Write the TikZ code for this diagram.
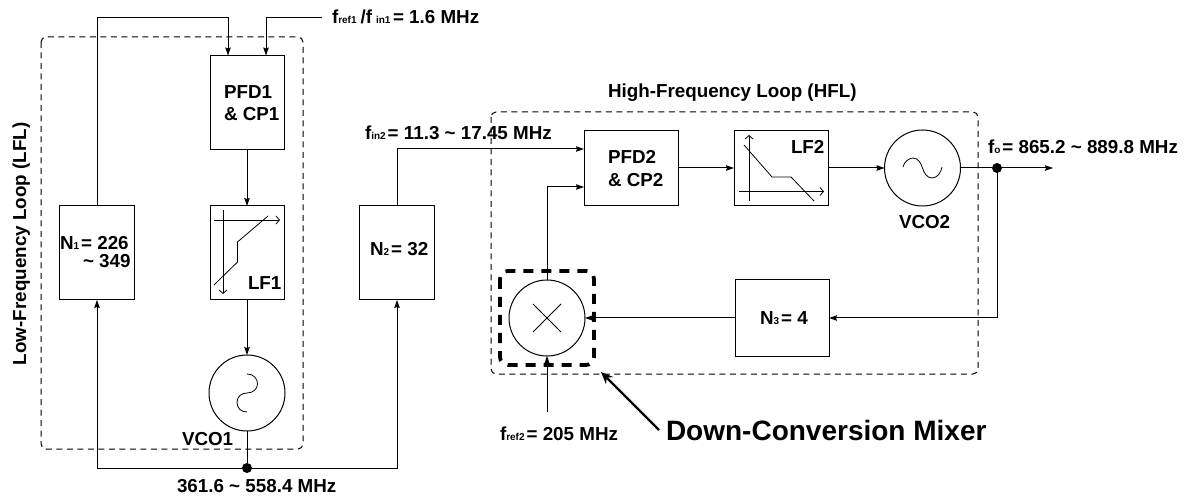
\documentclass[tikz,border=0pt]{standalone}
\usepackage{fontspec}
\setmainfont{Liberation Sans}
\usetikzlibrary{arrows.meta,calc}
\newcommand{\tinysub}[1]{{\fontsize{10}{12}\selectfont #1}}
\tikzset{
  x=1pt,y=-1pt,
  every node/.style={font=\fontsize{18.8}{22}\selectfont\bfseries},
  conn/.style={line width=1pt,draw=black},
  arrow/.style={conn,-{Stealth[length=8pt,width=5.5pt,inset=1pt]}},
  plotax/.style={line width=.8pt,-{Straight Barb[length=3.5pt,width=8pt]}},
  plotline/.style={line width=.8pt,line join=miter},
  blockbox/.style={draw,line width=1pt,inner sep=0pt,outer sep=0pt,minimum width=#1},
  roundblock/.style={draw,circle,line width=1pt,inner sep=0pt,outer sep=0pt,minimum size=76pt},
  dot/.style={circle,fill=black,inner sep=0pt,minimum size=10pt},
  loopbox/.style={line width=1pt,dash pattern=on 6pt off 4.5pt,rounded corners=5pt},
  mixbox/.style={line width=3.8pt,dash pattern=on 10pt off 8pt,rounded corners=8pt},
  lab/.style={anchor=base west,inner sep=0pt,outer sep=0pt},
}
\begin{document}
\begin{tikzpicture}
\useasboundingbox (0,0) rectangle (1187,497);
% loop frames
\draw[loopbox] (41,37) rectangle (303,449);
\draw[loopbox] (491,112) rectangle (978,374);
% blocks
\node[blockbox=74pt,minimum height=94pt] (pfd1) at (247,102.5) {};
\node[blockbox=74pt,minimum height=94pt] (lf1) at (247,253) {};
\node[blockbox=75pt,minimum height=94pt] (n1) at (97,253) {};
\node[blockbox=75pt,minimum height=94pt] (n2) at (397,253) {};
\node[roundblock] (vco1) at (247,393) {};
\node[dot] (j1) at (247,468) {};
\node[blockbox=94pt,minimum height=75pt] (pfd2) at (631,168) {};
\node[blockbox=94pt,minimum height=75pt] (lf2) at (781,168) {};
\node[roundblock] (vco2) at (922.5,168) {};
\node[dot] (j2) at (997,168) {};
\node[blockbox=94pt,minimum height=76pt] (n3) at (782,318) {};
\node[roundblock] (mix) at (547,318) {};
% free ends and bends
\coordinate (in1) at (322,18);
\coordinate (pfd1a) at (228,55.5);
\coordinate (pfd1b) at (266,55.5);
\coordinate (pfd2a) at (584,149);
\coordinate (pfd2b) at (584,187);
\coordinate (out) at (1053,168);
\coordinate (fr2) at (547,412);
\coordinate (dcm) at (659,430);
\coordinate (dcmtip) at (601,372);
% connectors
\draw[arrow] (n1.north) |- ($(pfd1a)+(0,-37.5)$) -- (pfd1a);
\draw[arrow] (in1) -| (pfd1b);
\draw[arrow] (pfd1) -- (lf1);
\draw[arrow] (lf1) -- (vco1);
\draw[conn] (vco1) -- (j1);
\draw[arrow] (j1) -| (n1.south);
\draw[arrow] (j1) -| (n2.south);
\draw[arrow] (n2.north) |- (pfd2a);
\draw[arrow] (mix.north) |- (pfd2b);
\draw[arrow] (pfd2) -- (lf2);
\draw[arrow] (lf2) -- (vco2);
\draw[conn] (vco2) -- (j2);
\draw[arrow] (j2) -- (out);
\draw[arrow] (j2) |- (n3.east);
\draw[arrow] (n3) -- (mix);
\draw[arrow] (fr2) -- (mix.south);
% symbols
\draw[plotax] (214,220) -- (280,220);
\draw[plotax] (223,210) -- (223,294);
\draw[plotline] (268,216) -- (237.5,242) -- (237.5,262) -- (214,285);
\draw[plotax] (749,201) -- (749,135);
\draw[plotax] (739,191.5) -- (824,191.5);
\draw[plotline] (744,145) -- (772,177) -- (791,177) -- (814,201);
\draw[line width=.8pt] (247,374) .. controls (254,374) and (257.5,379) .. (257.5,384) .. controls (257.5,389) and (253,393) .. (247,393) .. controls (241,393) and (237,397) .. (237,402.5) .. controls (237,408) and (241,412) .. (247,412);
\draw[line width=.8pt] (903,167) .. controls (904,162) and (909,158) .. (913,158) .. controls (918,158) and (921,163) .. (922.5,168) .. controls (924,173) and (927,178) .. (932,178) .. controls (937,178) and (941,173) .. (942,167);
\draw[line width=.8pt] (533,304) -- (561,332) (533,332) -- (561,304);
% mixer highlight
\draw[mixbox] (500,271) rectangle (594,365);
\draw[line width=2.4pt,-{Stealth[length=12pt,width=10pt]}] (dcm) -- (dcmtip);
% labels
\node[lab] (tfref1) at (332,24) {f\tinysub{ref1}\hspace{4pt}/f\hspace{4pt}\tinysub{in1}\hspace{2.5pt}= 1.6 MHz};
\node[lab] (tpfd1a) at (224,99) {PFD1};
\node[lab] (tpfd1b) at (224,121) {\& CP1};
\node[lab] (tn1a) at (60,249.5) {N\tinysub{1}\hspace{2pt}= 226};
\node[lab] (tn1b) at (83,268) {\textasciitilde{} 349};
\node[lab] (tlf1) at (248,290) {LF1};
\node[lab] (tvco1) at (182,445) {VCO1};
\node[lab] (tn2) at (370,256) {N\tinysub{2}\hspace{2pt}= 32};
\node[lab,rotate=90] (tlfl) at (26,365) {Low-Frequency Loop (LFL)};
\node[lab] (tout1) at (177,492) {361.6 \textasciitilde{} 558.4 MHz};
\node[lab] (tfin2) at (365,140) {f\tinysub{in2}\hspace{2pt}= 11.3 \textasciitilde{} 17.45 MHz};
\node[lab] (thfl) at (608,98) {High-Frequency Loop (HFL)};
\node[lab] (tpfd2a) at (608,164) {PFD2};
\node[lab] (tpfd2b) at (608,187) {\& CP2};
\node[lab] (tlf2) at (791,154) {LF2};
\node[lab] (tvco2) at (899,229) {VCO2};
\node[lab] (tfo) at (988,154) {f\tinysub{o}\hspace{2pt}= 865.2 \textasciitilde{} 889.8 MHz};
\node[lab] (tn3) at (760,325) {N\tinysub{3}\hspace{2pt}= 4};
\node[lab] (tfref2) at (500,440) {f\tinysub{ref2}\hspace{2pt}= 205 MHz};
\node[lab,font=\fontsize{28}{32}\selectfont\bfseries] (tdcm) at (666,440) {Down-Conversion Mixer};
\end{tikzpicture}
\end{document}
